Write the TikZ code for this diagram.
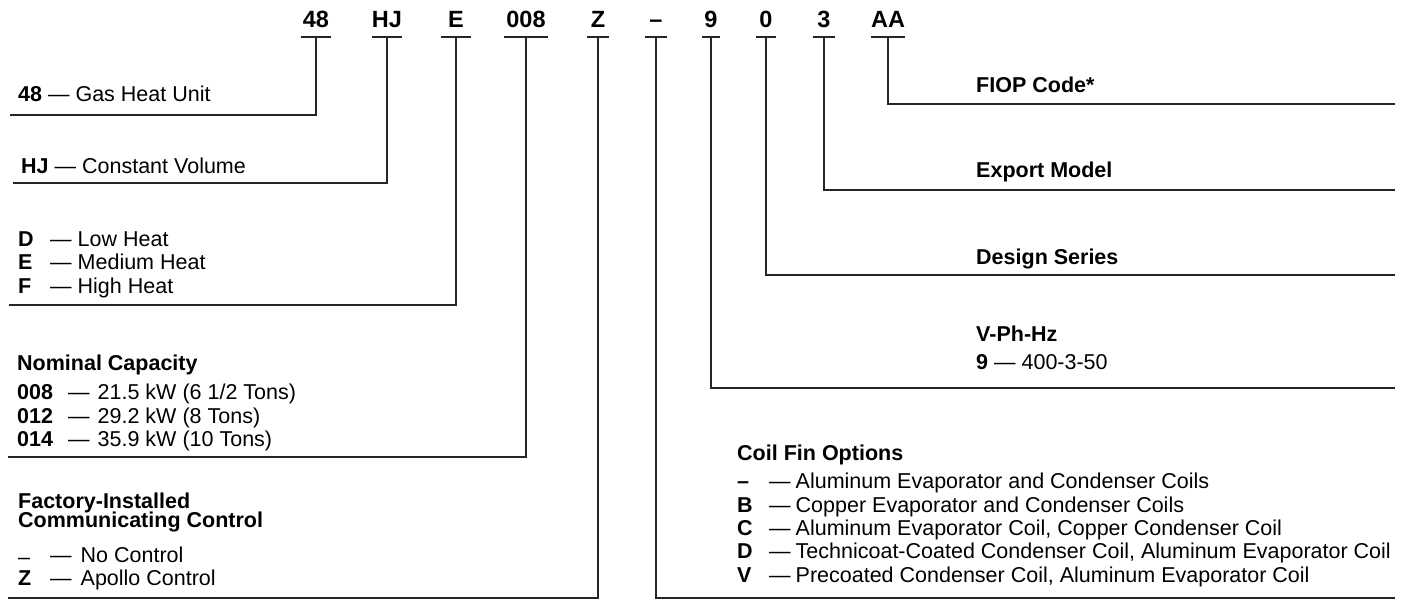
\documentclass[tikz,border=0pt]{standalone}
\usepackage{fontspec}
\setmainfont{Liberation Sans}
\newcommand{\kd}[2]{\makebox[#1][l]{\bfseries #2}}
\begin{document}
\begin{tikzpicture}[x=1pt,y=-1pt,
  lbl/.style={anchor=base west, inner sep=0pt, font=\fontsize{21.5}{23}\selectfont},
  code/.style={anchor=south, inner xsep=0pt, inner ysep=9pt, font=\fontsize{23.5}{25}\selectfont\bfseries},
  conn/.style={line width=1.3pt, draw=black!85}]
\useasboundingbox[fill=white] (0,0) rectangle (1409,601);

% header codes
\node[code, minimum width=30pt] (c48) at (316,37) {48};
\node[code, minimum width=30pt] (cHJ) at (387,37) {HJ};
\node[code, minimum width=30pt] (cE) at (456,37) {E};
\node[code, minimum width=43pt] (c008) at (526,37) {008};
\node[code, minimum width=21pt] (cZ) at (598,37) {Z};
\node[code, minimum width=21pt] (cdash) at (656,37) {–};
\node[code, minimum width=18pt] (c9) at (711,37) {9};
\node[code, minimum width=19pt] (c0) at (766,37) {0};
\node[code, minimum width=22pt] (c3) at (824,37) {3};
\node[code, minimum width=32pt] (cAA) at (888,37) {AA};

\foreach \n in {c48,cHJ,cE,c008,cZ,cdash,c9,c0,c3,cAA}
  \draw[conn] (\n.south west) -- (\n.south east);

% line ends
\coordinate (e48) at (10,115);
\coordinate (eHJ) at (13,183);
\coordinate (eE) at (9,305);
\coordinate (e008) at (8,457);
\coordinate (eZ) at (8,598);
\coordinate (edash) at (1395,598);
\coordinate (e9) at (1395,388);
\coordinate (e0) at (1395,275);
\coordinate (e3) at (1395,190);
\coordinate (eAA) at (1395,104);

\draw[conn] (c48.south) |- (e48);
\draw[conn] (cHJ.south) |- (eHJ);
\draw[conn] (cE.south) |- (eE);
\draw[conn] (c008.south) |- (e008);
\draw[conn] (cZ.south) |- (eZ);
\draw[conn] (cdash.south) |- (edash);
\draw[conn] (c9.south) |- (e9);
\draw[conn] (c0.south) |- (e0);
\draw[conn] (c3.south) |- (e3);
\draw[conn] (cAA.south) |- (eAA);

% left labels
\node[lbl] (t48) at (18,102) {\textbf{48} — Gas Heat Unit};
\node[lbl] (tHJ) at (21,174) {\textbf{HJ} — Constant Volume};
\node[lbl] (tD) at (18,247) {\kd{32pt}{D}—\hspace{6pt}Low Heat};
\node[lbl] (tE) at (18,270) {\kd{32pt}{E}—\hspace{6pt}Medium Heat};
\node[lbl] (tF) at (18,294) {\kd{32pt}{F}—\hspace{6pt}High Heat};

\node[lbl] (tNC) at (17,371) {\textbf{Nominal Capacity}};
\node[lbl] (t008) at (17,400) {\kd{51pt}{008}—\hspace{8pt}21.5 kW (6 1/2 Tons)};
\node[lbl] (t012) at (17,424) {\kd{51pt}{012}—\hspace{8pt}29.2 kW (8 Tons)};
\node[lbl] (t014) at (17,447) {\kd{51pt}{014}—\hspace{8pt}35.9 kW (10 Tons)};

\node[lbl] (tFI) at (18,508) {\textbf{Factory-Installed}};
\node[lbl] (tCC) at (18,527) {\textbf{Communicating Control}};
\node[lbl] (tNo) at (18,562) {\kd{32pt}{\mdseries\raisebox{-2pt}{–}}—\hspace{9pt}No Control};
\node[lbl] (tZ) at (18,585) {\kd{32pt}{Z}—\hspace{9pt}Apollo Control};

% right labels
\node[lbl] (tAA) at (976,93) {\textbf{FIOP Code*}};
\node[lbl] (t3) at (976,178) {\textbf{Export Model}};
\node[lbl] (t0) at (976,265) {\textbf{Design Series}};
\node[lbl] (tV) at (976,342) {\textbf{V-Ph-Hz}};
\node[lbl] (t9) at (976,370) {\textbf{9} — 400-3-50};

\node[lbl] (tCF) at (737,461) {\textbf{Coil Fin Options}};
\node[lbl] (tc1) at (737,489) {\kd{32pt}{–}—\hspace{5pt}Aluminum Evaporator and Condenser Coils};
\node[lbl] (tc2) at (737,512) {\kd{32pt}{B}—\hspace{5pt}Copper Evaporator and Condenser Coils};
\node[lbl] (tc3) at (737,535) {\kd{32pt}{C}—\hspace{5pt}Aluminum Evaporator Coil, Copper Condenser Coil};
\node[lbl] (tc4) at (737,558) {\kd{32pt}{D}—\hspace{5pt}Technicoat-Coated Condenser Coil, Aluminum Evaporator Coil};
\node[lbl] (tc5) at (737,582) {\kd{32pt}{V}—\hspace{5pt}Precoated Condenser Coil, Aluminum Evaporator Coil};
\end{tikzpicture}
\end{document}
